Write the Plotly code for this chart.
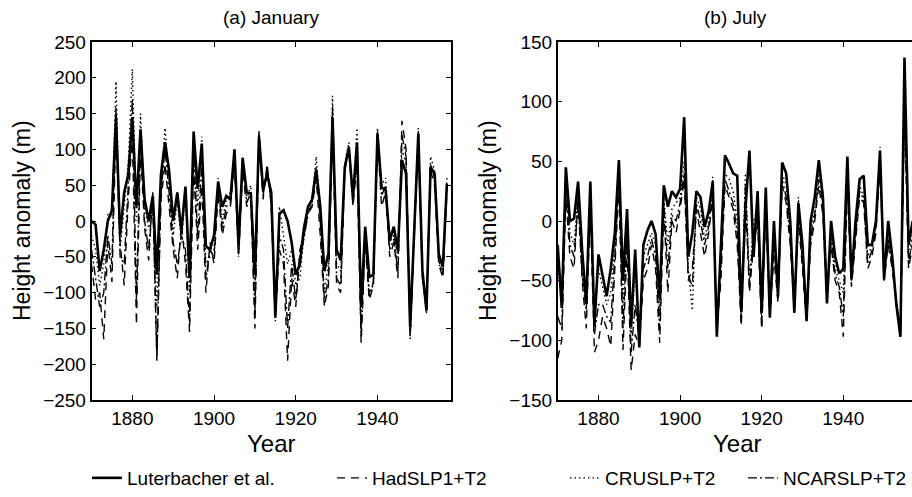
import plotly.graph_objects as go

YEARS = list(range(1870, 1958))

LUT_JAN = [0, -5, -70, -40, 0, 15, 145, -20, 40, 65,
           145, 20, 128, 30, 0, 35, -75, 65, 110, 70,
           0, 40, -15, 48, -80, 125, 45, 108, -35, -40,
           -20, 55, 20, 35, 30, 100, -35, 88, 40, 38,
           -75, 118, 45, 65, 40, -135, 10, 15, 0, -30,
           -75, -60, -10, 20, 30, 72, 20, -70, -45, 145,
           -40, -55, 75, 103, 33, 110, -120, -8, -78, -75,
           122, 47, 43, -27, -8, -42, 85, 66, -148, -8,
           122, -69, -125, 75, 66, -46, -64, 52]
HAD_JAN = [-60, -110, -100, -165, -30, -85, 130, -30, -90, 30,
           120, -145, 100, -10, -55, 40, -190, 30, 80, 20,
           -40, -80, -5, -60, -155, 75, -40, 50, -100, -30,
           -60, 40, -20, 10, 20, 80, -50, 70, 20, 30,
           -150, 125, 30, 80, 20, -130, -40, -60, -195, -80,
           -120, -40, -20, 10, 20, 60, -20, -120, -90, 130,
           -90, -100, 70, 100, 20, 80, -170, -30, -110, -90,
           120, 20, 40, -50, -30, -80, 140, 100, -160, -20,
           110, -80, -120, 70, 50, -60, -80, 40]
CRU_JAN = [-20, -40, -90, -60, 10, 5, 195, -40, 20, 80,
           212, 0, 150, 20, -10, 20, -120, 50, 130, 60,
           -20, 30, -30, 40, -100, 120, 20, 118, -60, -50,
           -40, 60, 0, 30, 40, 95, -50, 90, 30, 50,
           -100, 125, 40, 70, 30, -140, 20, -20, -60, -40,
           -90, -80, -20, 10, 30, 90, 10, -100, -60, 175,
           -60, -70, 80, 110, 30, 130, -150, -20, -100, -90,
           130, 50, 60, -30, -20, -50, 100, 80, -165, -10,
           130, -80, -130, 90, 70, -60, -70, 60]
NCAR_JAN = [-40, -80, -120, -100, -20, -60, 160, -50, -60, 50,
            170, -110, 120, 0, -40, 30, -195, 40, 100, 40,
            -30, -60, -20, -40, -140, 100, -20, 80, -80, -40,
            -50, 50, -10, 20, 25, 90, -45, 80, 25, 40,
            -130, 120, 35, 75, 25, -135, -20, -40, -150, -60,
            -110, -50, -25, 10, 25, 75, 0, -110, -80, 160,
            -80, -90, 75, 105, 25, 100, -160, -25, -105, -85,
            125, 35, 50, -40, -25, -70, 120, 90, -160, -15,
            120, -75, -125, 80, 60, -55, -75, 50]

LUT_JUL = [-20, -73, 45, 0, 2, 33, -25, -69, 33, -88,
           -28, -45, -63, -40, -10, 51, -50, 10, -88, -24,
           -106, -20, -8, 0, -11, -66, 30, 12, 25, 20,
           27, 87, -30, -10, 25, 20, -5, 8, 33, -97,
           -20, 55, 48, 40, 38, -76, 10, 59, -30, 25,
           -77, 28, -81, 0, -63, 49, 40, 0, -77, 15,
           -20, -84, 0, 20, 51, 20, -69, 0, -30, -44,
           -40, 54, -49, 0, 35, 38, -20, -20, 0, 59,
           -49, 0, -30, -70, -97, 137, -20, 0]
HAD_JUL = [-115, -100, 20, -30, -40, 20, -50, -90, 10, -110,
           -100, -80, -90, -105, -40, 30, -108, -20, -125, -95,
           -105, -50, -40, -20, -40, -102, 10, -60, 0, -10,
           10, 35, -50, -40, 10, -10, -30, -10, 20, -90,
           -50, 30, 20, 10, -20, -88, 20, -60, -20, 0,
           -91, 10, -80, -30, -69, 30, 15, -20, -75, 0,
           -40, -85, -20, 0, 30, 5, -65, -20, -50, -60,
           -97, 30, -55, -20, 20, 15, -40, -30, -10, 45,
           -50, -20, -40, -70, -97, 90, -40, -20]
CRU_JUL = [-40, -60, 38, -10, -20, 25, -40, -60, 20, -80,
           -40, -55, -70, -60, -20, 40, -70, 0, -95, -40,
           -90, -30, -20, -10, -20, -75, 20, -20, 10, 15,
           20, 50, -40, -75, 20, 10, -15, 0, 37, -90,
           -30, 40, 35, 25, 0, -80, 40, -50, 0, 10,
           -85, 20, -75, -10, -60, 40, 30, -10, -70, 20,
           -30, -80, -10, 10, 40, 25, -60, -10, -40, -50,
           -60, 40, -45, -10, 30, 20, -30, -20, 0, 62,
           -45, -10, -35, -65, -90, 110, -30, -10]
NCAR_JUL = [-80, -90, 30, -20, -30, 15, -45, -75, 15, -95,
            -70, -70, -80, -85, -30, 35, -90, -10, -110, -70,
            -100, -40, -30, -15, -30, -90, 15, -40, 5, 0,
            15, 40, -45, -55, 15, 0, -20, -5, 25, -95,
            -40, 35, 25, 15, -10, -85, 30, -55, -10, 5,
            -88, 15, -78, -20, -65, 35, 20, -15, -72, 10,
            -35, -82, -15, 5, 35, 15, -62, -15, -45, -55,
            -80, 35, -50, -15, 25, 18, -35, -25, -5, 50,
            -48, -15, -38, -68, -95, 100, -35, -15]

SERIES_NAMES = ["Luterbacher et al.", "HadSLP1+T2", "CRUSLP+T2", "NCARSLP+T2"]
X_TICKS = [1880, 1900, 1920, 1940]
JAN_TICKS = [-250, -200, -150, -100, -50, 0, 50, 100, 150, 200, 250]
JUL_TICKS = [-150, -100, -50, 0, 50, 100, 150]

W, H = 912, 497
FONT = "Liberation Sans, Arial, Helvetica, sans-serif"


def px_x(p):
    return p / W


def px_y(p):
    return 1 - p / H


styles = {
    "Luterbacher et al.": dict(width=2.6, dash="solid"),
    "HadSLP1+T2": dict(width=1.4, dash="8px,6px"),
    "CRUSLP+T2": dict(width=1.4, dash="1.5px,3px"),
    "NCARSLP+T2": dict(width=1.4, dash="9px,3px,2px,3px"),
}
legend_ids = {"Luterbacher et al.": "legend", "HadSLP1+T2": "legend2",
              "CRUSLP+T2": "legend3", "NCARSLP+T2": "legend4"}

jan = {"Luterbacher et al.": LUT_JAN, "HadSLP1+T2": HAD_JAN,
       "CRUSLP+T2": CRU_JAN, "NCARSLP+T2": NCAR_JAN}
jul = {"Luterbacher et al.": LUT_JUL, "HadSLP1+T2": HAD_JUL,
       "CRUSLP+T2": CRU_JUL, "NCARSLP+T2": NCAR_JUL}

fig = go.Figure()
draw_order = ["HadSLP1+T2", "CRUSLP+T2", "NCARSLP+T2", "Luterbacher et al."]
for name in draw_order:
    fig.add_trace(go.Scatter(x=YEARS, y=jan[name], mode="lines", name=name,
                             line=dict(color="black", **styles[name]),
                             xaxis="x", yaxis="y", legend=legend_ids[name],
                             showlegend=True))
for name in draw_order:
    fig.add_trace(go.Scatter(x=YEARS, y=jul[name], mode="lines", name=name,
                             line=dict(color="black", **styles[name]),
                             xaxis="x2", yaxis="y2", showlegend=False))

axis_common = dict(showgrid=False, zeroline=False, showline=True, linecolor="black",
                   linewidth=1.5, ticks="inside", ticklen=5, tickwidth=1, automargin=False,
                   tickcolor="black", tickfont=dict(family=FONT, size=19, color="black"))

y_dom = [px_y(400), px_y(42)]
fig.update_layout(
    width=W, height=H, plot_bgcolor="white", paper_bgcolor="white",
    margin=dict(l=0, r=0, t=0, b=0, pad=0, autoexpand=False),
    xaxis=dict(domain=[px_x(91.5), px_x(451)], range=[1870, 1958],
               tickvals=X_TICKS, mirror="ticks", anchor="y", **axis_common),
    yaxis=dict(domain=y_dom, range=[-250, 250], tickvals=JAN_TICKS,
               mirror="ticks", anchor="x", **axis_common),
    xaxis2=dict(domain=[px_x(557.7), 1.0], range=[1870, 1870 + (912 - 557.7) / 4.08],
                tickvals=X_TICKS, mirror="ticks", anchor="y2", **axis_common),
    yaxis2=dict(domain=y_dom, range=[-150, 150], tickvals=JUL_TICKS,
                mirror=False, anchor="x2", **axis_common),
    showlegend=True,
)

leg_x = {"legend": 87, "legend2": 332, "legend3": 565, "legend4": 743}
for lid, xp in leg_x.items():
    fig.update_layout(**{lid: dict(x=px_x(xp), y=px_y(478), xanchor="left", yanchor="middle",
                                   orientation="h", bgcolor="rgba(0,0,0,0)",
                                   font=dict(family=FONT, size=19, color="black"))})

ann_font = dict(family=FONT, size=19, color="black")
anns = [
    dict(text="(a) January", x=px_x(271), y=px_y(17)),
    dict(text="(b) July", x=px_x(735), y=px_y(17)),
    dict(text="Year", x=px_x(271), y=px_y(443), size=24),
    dict(text="Year", x=px_x(737), y=px_y(443), size=24),
    dict(text="Height anomaly (m)", x=px_x(22), y=px_y(221), size=23, textangle=-90),
    dict(text="Height anomaly (m)", x=px_x(488), y=px_y(221), size=23, textangle=-90),
]
for a in anns:
    f = dict(ann_font)
    if "size" in a:
        f["size"] = a.pop("size")
    fig.add_annotation(xref="paper", yref="paper", showarrow=False,
                       xanchor="center", yanchor="middle", font=f, **a)

fig.write_html("out.html", config={"displayModeBar": False},
               post_script="document.body.style.margin='0';document.body.style.overflow='hidden';")
